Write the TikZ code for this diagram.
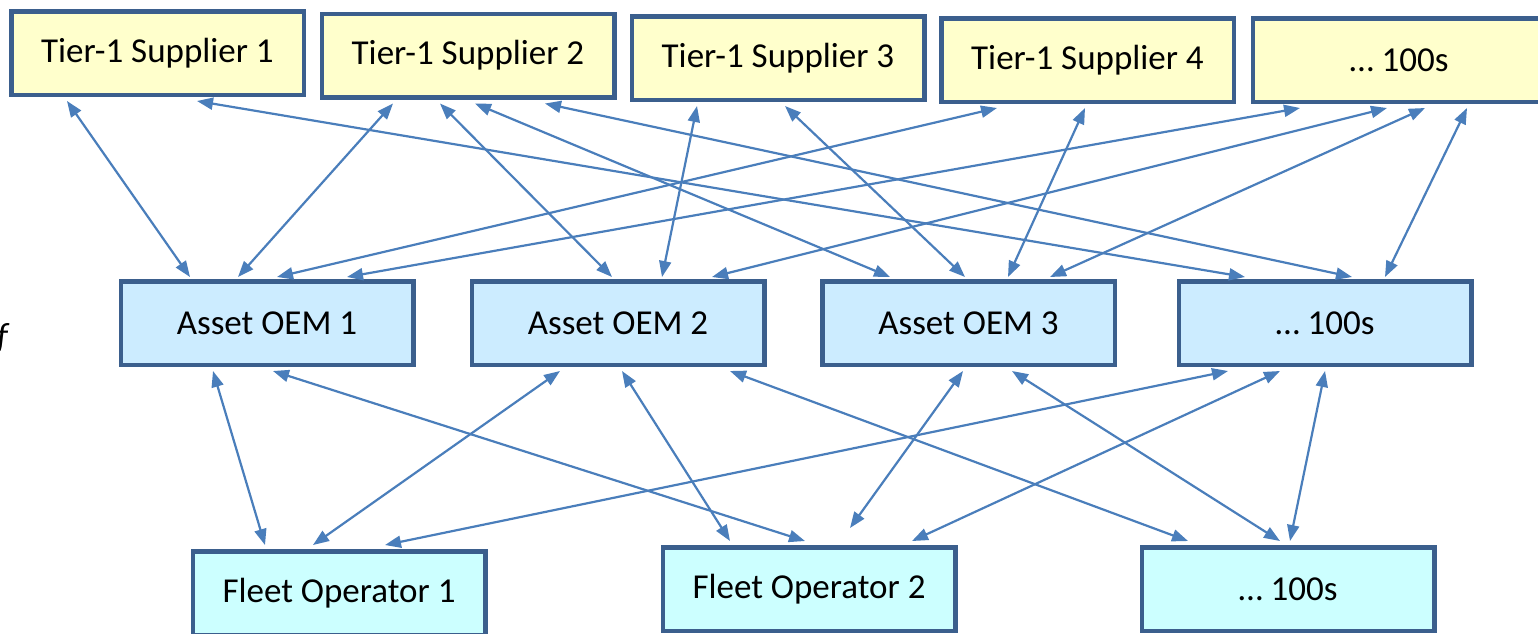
\documentclass[tikz,border=0pt]{standalone}
\usepackage{fontspec}
\setmainfont{Carlito}
\usetikzlibrary{arrows.meta,calc}
\definecolor{bordc}{HTML}{3B5F8D}
\definecolor{supfill}{HTML}{FFFFCC}
\definecolor{oemfill}{HTML}{CCECFF}
\definecolor{fleetfill}{HTML}{CCFFFF}
\definecolor{arrc}{HTML}{4A7EBB}
\begin{document}
\begin{tikzpicture}[x=1pt,y=-1pt,
  box/.style={draw=bordc,line width=4.5pt,minimum width=292.5pt,minimum height=83.5pt,inner sep=0pt,font=\fontsize{35}{42}\selectfont},
  supbox/.style={box,fill=supfill},
  oembox/.style={box,fill=oemfill},
  fleetbox/.style={box,fill=fleetfill},
  link/.style={draw=arrc,line width=2.2pt,{Triangle[length=16pt,width=12pt]}-{Triangle[length=16pt,width=12pt]}}]
\useasboundingbox (0,0) rectangle (1538,633);
\clip (0,0) rectangle (1538,633);
% top row
\node[supbox] (S1) at (157.5,53) {Tier-1 Supplier 1};
\node[supbox] (S2) at (468,55.5) {Tier-1 Supplier 2};
\node[supbox] (S3) at (778,58) {Tier-1 Supplier 3};
\node[supbox] (S4) at (1087.5,60) {Tier-1 Supplier 4};
\node[supbox] (S5) at (1399,60) {… 100s};
% middle row
\node[oembox] (O1) at (267,323) {Asset OEM 1};
\node[oembox] (O2) at (618,323) {Asset OEM 2};
\node[oembox] (O3) at (968.5,323) {Asset OEM 3};
\node[oembox] (O4) at (1325,323) {… 100s};
% bottom row
\node[fleetbox] (F1) at (339,593) {Fleet Operator 1};
\node[fleetbox] (F2) at (809,589) {Fleet Operator 2};
\node[fleetbox] (F3) at (1288,589) {… 100s};
% cut-off text at left
\node[anchor=base east,inner sep=0pt,font=\fontsize{35}{42}\selectfont\itshape] (cut) at (8,347) {f};
% top links
\draw[link] ($(S1.south)+(-90.5,4)$) -- ($(O1.north)+(-77,-2)$);
\draw[link] ($(S1.south)+(39.5,4)$) -- ($(O4.north)+(-80,-2)$);
\draw[link] ($(S2.south)+(-75,4)$) -- ($(O1.north)+(-29,-2)$);
\draw[link] ($(S2.south)+(-28,4)$) -- ($(O2.north)+(-6,-2)$);
\draw[link] ($(S2.south)+(7,4)$) -- ($(O3.north)+(-78.5,-2)$);
\draw[link] ($(S2.south)+(77,4)$) -- ($(O4.north)+(27,-2)$);
\draw[link] ($(S3.south)+(-81,4)$) -- ($(O2.north)+(44,-2)$);
\draw[link] ($(S3.south)+(7,4)$) -- ($(O3.north)+(-3.5,-2)$);
\draw[link] ($(S4.south)+(-90.5,4)$) -- ($(O1.north)+(10,-2)$);
\draw[link] ($(S4.south)+(-2.5,4)$) -- ($(O3.north)+(39.5,-2)$);
\draw[link] ($(S5.south)+(-99,4)$) -- ($(O1.north)+(80,-2)$);
\draw[link] ($(S5.south)+(-12,4)$) -- ($(O2.north)+(94,-2)$);
\draw[link] ($(S5.south)+(26,4)$) -- ($(O3.north)+(81.5,-2)$);
\draw[link] ($(S5.south)+(68,4)$) -- ($(O4.north)+(60,-2)$);
% bottom links
\draw[link] ($(O1.south)+(-54,4)$) -- ($(F1.north)+(-74,-4)$);
\draw[link] ($(O1.south)+(6,4)$) -- ($(F2.north)+(-4,-4)$);
\draw[link] ($(F1.north)+(-26,-4)$) -- ($(O2.south)+(-58,4)$);
\draw[link] ($(F1.north)+(46,-4)$) -- ($(O4.south)+(-97,4)$);
\draw[link] ($(O2.south)+(4,4)$) -- ($(F2.north)+(-79,-4)$);
\draw[link] ($(O2.south)+(112,4)$) -- ($(F3.north)+(-100,-4)$);
\draw[link] ($(O3.south)+(-5.5,4)$) -- ($(F2.north)+(41,-17)$);
\draw[link] ($(F2.north)+(103,-4)$) -- ($(O4.south)+(-45,4)$);
\draw[link] ($(O3.south)+(43.5,4)$) -- ($(F3.north)+(-8,-4)$);
\draw[link] ($(O4.south)+(0,4)$) -- ($(F3.north)+(2,-4)$);
\end{tikzpicture}
\end{document}
